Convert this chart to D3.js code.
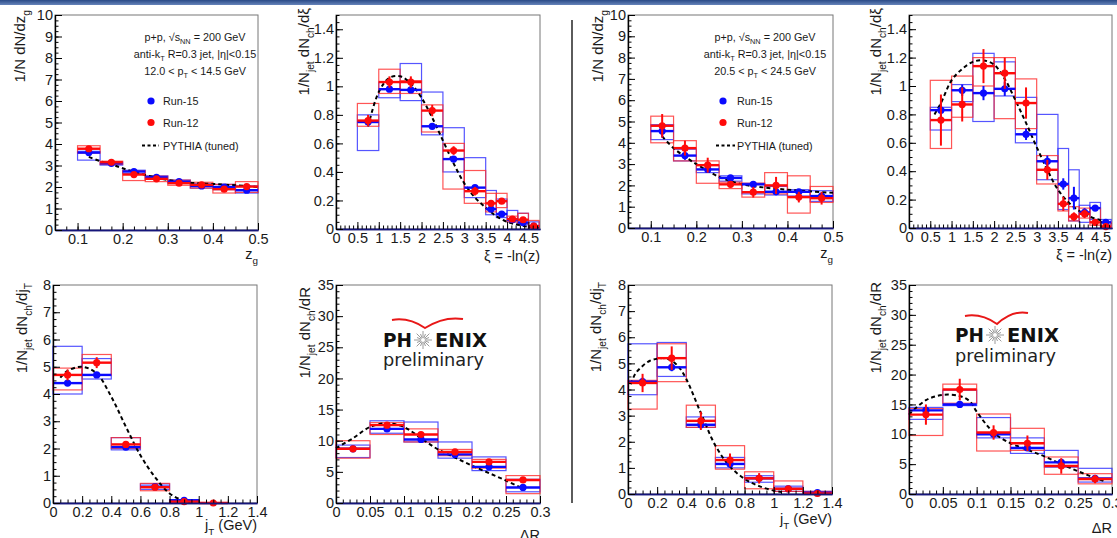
<!DOCTYPE html>
<html><head><meta charset="utf-8">
<script src="https://cdn.jsdelivr.net/npm/d3@7"></script>
<style>body{margin:0;background:#fff;} svg{display:block;font-family:"Liberation Sans",Arial,sans-serif;}</style>
</head><body><svg id="c" width="1117" height="538"></svg>
<script>
// ---------------- bin edges & tick labels ----------------
const zgEdges = [0.1,0.15,0.2,0.25,0.3,0.35,0.4,0.45,0.5];
const xiEdges = [0.5,1,1.5,2,2.5,3,3.5,3.75,4,4.25,4.5,4.75];
const jtEdgesLo = [0,0.2,0.4,0.6,0.8,1.0,1.2];
const jtEdgesHi = [0,0.2,0.4,0.6,0.8,1.0,1.2,1.4];
const drEdges = [0,0.05,0.1,0.15,0.2,0.25,0.3];

const zgXTicks = [0.1,0.2,0.3,0.4,0.5];
const zgYTicks = [0,1,2,3,4,5,6,7,8,9,10];
const xiXTicks = [0,0.5,1,1.5,2,2.5,3,3.5,4,4.5];
const xiYTicks = [0,0.2,0.4,0.6,0.8,1,1.2,1.4];
const jtXTicks = [0,0.2,0.4,0.6,0.8,1,1.2,1.4];
const jtYTicks = [0,1,2,3,4,5,6,7,8];
const drXTicks = [0,0.05,0.1,0.15,0.2,0.25,0.3];
const drYTicks = [0,5,10,15,20,25,30,35];

// ---------------- 12.0 < pT < 14.5 GeV ----------------
const zgLoBlue      = [3.6, 3.1, 2.72, 2.45, 2.25, 2.05, 2.0, 1.85];
const zgLoBlueStat  = [0.08,0.05,0.05,0.05,0.05,0.05,0.05,0.06];
const zgLoBlueSysLo = [3.25,3.02,2.62,2.36,2.18,1.95,1.88,1.72];
const zgLoBlueSysHi = [3.66,3.16,2.78,2.52,2.32,2.15,2.12,2.05];
const zgLoRed       = [3.78,3.15,2.58,2.38,2.18,2.1,1.9,2.02];
const zgLoRedStat   = [0.1,0.08,0.08,0.07,0.06,0.07,0.07,0.08];
const zgLoRedSysLo  = [3.58,3.05,2.3,2.25,2.08,1.95,1.72,1.75];
const zgLoRedSysHi  = [3.92,3.2,2.75,2.5,2.32,2.22,2.12,2.25];
const zgLoPyX = [0.125,0.15,0.175,0.2,0.25,0.3,0.35,0.4,0.45,0.5];
const zgLoPyY = [3.4,3.2,3.05,2.87,2.56,2.33,2.2,2.14,2.08,2.0];

const xiLoBlue      = [0.75,0.98,0.975,0.72,0.49,0.29,0.14,0.105,0.065,0.045,0.02];
const xiLoBlueStat  = [0.03,0.02,0.02,0.02,0.015,0.015,0.01,0.01,0.008,0.008,0.005];
const xiLoBlueSysLo = [0.55,0.92,0.90,0.66,0.40,0.22,0.10,0.08,0.05,0.03,0.01];
const xiLoBlueSysHi = [0.80,1.03,1.16,0.96,0.71,0.50,0.27,0.21,0.13,0.11,0.05];
const xiLoRed       = [0.76,1.03,1.03,0.83,0.55,0.265,0.18,0.195,0.07,0.065,0.02];
const xiLoRedStat   = [0.04,0.04,0.04,0.04,0.03,0.03,0.02,0.015,0.01,0.01,0.008];
const xiLoRedSysLo  = [0.72,0.95,0.95,0.68,0.28,0.18,0.12,0.15,0.05,0.04,0.0];
const xiLoRedSysHi  = [0.88,1.12,1.04,0.87,0.60,0.41,0.25,0.25,0.09,0.11,0.06];
const xiLoPyX = [0.75,1.0,1.25,1.5,1.75,2.0,2.25,2.5,2.75,3.0,3.25,3.5,3.75,4.0,4.25,4.5,4.75];
const xiLoPyY = [0.72,0.96,1.06,1.07,1.02,0.92,0.78,0.62,0.46,0.32,0.22,0.15,0.09,0.05,0.03,0.015,0.01];

const jtLoBlue      = [4.4,4.7,2.05,0.6,0.1];
const jtLoBlueStat  = [0.1,0.1,0.05,0.03,0.02];
const jtLoBlueSysLo = [4.0,4.55,1.95,0.5,0.0];
const jtLoBlueSysHi = [5.75,5.3,2.4,0.7,0.12];
const jtLoRed       = [4.7,5.15,2.15,0.58,0.05,0.0];
const jtLoRedStat   = [0.2,0.2,0.08,0.04,0.02,0.01];
const jtLoRedSysLo  = [4.15,4.7,2.0,0.45,0.0,0.0];
const jtLoRedSysHi  = [4.95,5.45,2.4,0.72,0.1,0.02];
const jtLoPyX = [0.05,0.1,0.2,0.3,0.4,0.5,0.6,0.7,0.8,0.9,0.95];
const jtLoPyY = [4.6,4.85,5.0,4.75,3.9,2.8,1.75,0.95,0.35,0.08,0.03];

const drLoBlue      = [8.7,11.9,10.2,7.8,5.8,2.5];
const drLoBlueStat  = [0.2,0.3,0.3,0.2,0.2,0.2];
const drLoBlueSysLo = [7.3,11.2,9.8,7.2,5.2,1.8];
const drLoBlueSysHi = [9.3,13.2,13.0,9.8,7.4,3.8];
const drLoRed       = [8.7,12.5,11.0,8.2,6.6,3.7];
const drLoRedStat   = [0.3,0.4,0.4,0.3,0.3,0.3];
const drLoRedSysLo  = [7.2,11.0,9.8,7.6,5.6,1.5];
const drLoRedSysHi  = [10.0,12.9,11.9,8.6,7.0,4.4];
const drLoPyX = [0.0,0.025,0.05,0.075,0.1,0.125,0.15,0.175,0.2,0.225,0.25,0.275];
const drLoPyY = [8.8,10.4,12.2,12.8,12.2,10.4,8.6,7.3,6.0,4.8,3.6,2.3];

// ---------------- 20.5 < pT < 24.5 GeV ----------------
const zgHiBlue      = [4.55,3.4,2.75,2.35,2.05,1.7,1.7,1.5];
const zgHiBlueStat  = [0.3,0.2,0.15,0.1,0.1,0.1,0.1,0.12];
const zgHiBlueSysLo = [4.15,3.15,2.6,2.2,1.6,1.55,1.5,1.25];
const zgHiBlueSysHi = [4.85,3.7,2.95,2.45,2.1,1.95,1.8,1.75];
const zgHiRed       = [4.8,3.75,2.95,2.05,1.68,2.0,1.45,1.4];
const zgHiRedStat   = [0.55,0.35,0.35,0.15,0.25,0.4,0.25,0.3];
const zgHiRedSysLo  = [4.0,3.15,2.1,1.85,1.45,1.6,0.7,1.2];
const zgHiRedSysHi  = [5.25,4.1,3.15,2.15,2.1,2.6,2.45,1.95];
const zgHiPyX = [0.125,0.15,0.175,0.2,0.25,0.3,0.35,0.4,0.45,0.5];
const zgHiPyY = [4.3,3.75,3.35,3.0,2.4,2.05,1.9,1.8,1.72,1.65];

const xiHiBlue      = [0.83,0.97,0.95,0.98,0.66,0.47,0.31,0.21,0.11,0.14,0.04];
const xiHiBlueStat  = [0.05,0.04,0.05,0.05,0.04,0.04,0.04,0.08,0.03,0.02,0.02];
const xiHiBlueSysLo = [0.69,0.89,0.75,0.93,0.6,0.34,0.13,0.05,0.04,0.06,0.0];
const xiHiBlueSysHi = [0.85,1.01,1.23,1.17,0.92,0.8,0.56,0.41,0.16,0.18,0.06];
const xiHiRed       = [0.76,0.87,1.14,1.09,0.88,0.41,0.17,0.08,0.1,0.04,0.01];
const xiHiRedStat   = [0.18,0.12,0.12,0.11,0.11,0.07,0.05,0.03,0.03,0.02,0.01];
const xiHiRedSysLo  = [0.56,0.78,1.0,0.77,0.7,0.31,0.12,0.05,0.07,0.02,0.0];
const xiHiRedSysHi  = [1.04,1.07,1.2,1.2,1.05,0.51,0.3,0.15,0.14,0.14,0.04];
const xiHiPyX = [0.6,0.75,1.0,1.25,1.5,1.75,2.0,2.25,2.5,2.75,3.0,3.25,3.5,3.75,4.0,4.25,4.5,4.75];
const xiHiPyY = [0.8,0.88,1.04,1.12,1.17,1.18,1.15,1.05,0.9,0.74,0.57,0.41,0.27,0.18,0.12,0.08,0.055,0.03];

const jtHiBlue      = [4.3,4.85,2.65,1.15,0.6,0.2,0.05];
const jtHiBlueStat  = [0.15,0.15,0.1,0.08,0.05,0.03,0.02];
const jtHiBlueSysLo = [3.8,4.5,2.55,1.0,0.45,0.1,0.0];
const jtHiBlueSysHi = [5.75,5.8,2.95,1.4,0.7,0.3,0.1];
const jtHiRed       = [4.25,5.2,2.8,1.3,0.6,0.2,0.02];
const jtHiRedStat   = [0.35,0.45,0.35,0.25,0.2,0.1,0.03];
const jtHiRedSysLo  = [3.25,4.3,2.55,0.95,0.2,0.1,0.0];
const jtHiRedSysHi  = [4.35,5.75,3.4,1.85,0.85,0.5,0.1];
const jtHiPyX = [0.02,0.05,0.1,0.15,0.2,0.25,0.3,0.35,0.4,0.5,0.6,0.7,0.8,0.9,1.0,1.05];
const jtHiPyY = [4.2,4.6,4.9,5.1,5.18,5.2,5.1,4.85,4.4,3.1,1.85,1.05,0.58,0.3,0.13,0.08];

const drHiBlue      = [14.0,15.0,10.0,7.7,5.3,2.6];
const drHiBlueStat  = [0.6,0.6,0.5,0.4,0.4,0.3];
const drHiBlueSysLo = [12.5,14.8,9.4,6.8,4.5,2.0];
const drHiBlueSysHi = [14.5,17.4,12.8,9.4,7.3,4.3];
const drHiRed       = [13.3,17.5,10.3,8.5,4.7,2.5];
const drHiRedStat   = [1.7,1.8,1.2,1.3,1.3,0.7];
const drHiRedSysLo  = [9.8,15.2,7.2,7.3,3.3,1.7];
const drHiRedSysHi  = [14.3,18.4,13.4,11.0,6.2,3.4];
const drHiPyX = [0.0,0.025,0.05,0.075,0.09,0.1,0.125,0.15,0.175,0.2,0.225,0.25,0.275,0.29];
const drHiPyY = [13.3,15.7,16.6,16.4,15.5,13.8,10.3,8.5,7.4,6.3,5.0,3.8,2.7,2.1];

// ---------------- drawing ----------------
const svg = d3.select('#c');
const FONT = '"Liberation Sans",Arial,sans-serif';
const BLUE = '#0a0aff', RED = '#ff0a0a';

// header band
const grad = svg.append('defs').append('linearGradient').attr('id','hb').attr('x1',0).attr('y1',0).attr('x2',0).attr('y2',1);
grad.append('stop').attr('offset','0%').attr('stop-color','#2a4a86');
grad.append('stop').attr('offset','100%').attr('stop-color','#6684bb');
svg.append('rect').attr('x',0).attr('y',0).attr('width',1117).attr('height',5).attr('fill','url(#hb)');

// divider
svg.append('line').attr('x1',572).attr('x2',572).attr('y1',20).attr('y2',503).attr('stroke','#333').attr('stroke-width',1.6);

function rich(textSel, parts, size){
  let off = 0;
  parts.forEach(([t, sub]) => {
    const target = sub ? size*0.32 : 0;
    textSel.append('tspan').attr('dy', target - off).attr('font-size', sub ? size*0.68 : size).text(t);
    off = target;
  });
}

function minorVals(dom, step){
  const n = Math.round((dom[1]-dom[0])/step);
  return d3.range(n+1).map(i => dom[0] + i*step).filter(v => v <= dom[1] + 1e-9);
}

function drawPanel(p){
  const g = svg.append('g');
  const x = d3.scaleLinear().domain(p.xDom).range([p.L, p.R]);
  const y = d3.scaleLinear().domain(p.yDom).range([p.B, p.T]);

  g.append('rect').attr('x',p.L).attr('y',p.T).attr('width',p.R-p.L).attr('height',p.B-p.T)
    .attr('fill','none').attr('stroke','#777').attr('stroke-width',1);

  const series = [
    {v:p.blue, s:p.blueStat, lo:p.blueSysLo, hi:p.blueSysHi, c:BLUE, bc:'#2b2bff'},
    {v:p.red,  s:p.redStat,  lo:p.redSysLo,  hi:p.redSysHi,  c:RED,  bc:'#ff2b2b'}
  ];
  // systematic boxes
  series.forEach(S => {
    g.selectAll(null).data(S.v).enter().append('rect')
      .attr('x',(d,i)=>x(p.edges[i])).attr('width',(d,i)=>x(p.edges[i+1])-x(p.edges[i]))
      .attr('y',(d,i)=>y(S.hi[i])).attr('height',(d,i)=>Math.max(0.5,y(S.lo[i])-y(S.hi[i])))
      .attr('fill','none').attr('stroke',S.bc).attr('stroke-opacity',0.8).attr('stroke-width',1.2);
  });
  // PYTHIA
  const pts = p.pyX.map((v,i)=>[v,p.pyY[i]]);
  g.append('path').datum(pts)
    .attr('d', d3.line().x(d=>x(d[0])).y(d=>y(d[1])).curve(d3.curveCatmullRom))
    .attr('fill','none').attr('stroke','#000').attr('stroke-width',2).attr('stroke-dasharray','4,3');
  // data
  series.forEach(S => {
    const c = (i)=> x((p.edges[i]+p.edges[i+1])/2);
    g.selectAll(null).data(S.v).enter().append('line')
      .attr('x1',(d,i)=>x(p.edges[i])).attr('x2',(d,i)=>x(p.edges[i+1]))
      .attr('y1',d=>y(d)).attr('y2',d=>y(d)).attr('stroke',S.c).attr('stroke-width',2.4);
    g.selectAll(null).data(S.v).enter().append('line')
      .attr('x1',(d,i)=>c(i)).attr('x2',(d,i)=>c(i))
      .attr('y1',(d,i)=>y(Math.max(0,d-S.s[i]))).attr('y2',(d,i)=>y(d+S.s[i]))
      .attr('stroke',S.c).attr('stroke-width',2);
    g.selectAll(null).data(S.v).enter().append('circle')
      .attr('cx',(d,i)=>c(i)).attr('cy',d=>y(d)).attr('r',3.6).attr('fill',S.c);
  });

  // axes
  const xg = g.append('g').attr('transform',`translate(0,${p.B})`);
  xg.call(d3.axisBottom(x).tickValues(minorVals(p.xDom,p.xMinor)).tickSizeInner(-3.5).tickSizeOuter(0).tickFormat(''));
  xg.append('g').call(d3.axisBottom(x).tickValues(p.xTicks).tickSizeInner(-7).tickSizeOuter(0).tickPadding(4).tickFormat(d=>String(d)));
  xg.selectAll('.domain').attr('stroke','#15157a').attr('stroke-width',1.6);
  xg.selectAll('text').attr('font-size',14.5).attr('fill','#1a1a1a').attr('font-family',FONT);

  const yg = g.append('g').attr('transform',`translate(${p.L},0)`);
  yg.call(d3.axisLeft(y).tickValues(minorVals(p.yDom,p.yMinor)).tickSizeInner(-3.5).tickSizeOuter(0).tickFormat(''));
  yg.append('g').call(d3.axisLeft(y).tickValues(p.yTicks).tickSizeInner(-7).tickSizeOuter(0).tickPadding(2).tickFormat(d=>String(d)));
  yg.selectAll('.domain').attr('stroke','#000').attr('stroke-width',1.2);
  yg.selectAll('text').attr('font-size',14.5).attr('fill','#1a1a1a').attr('font-family',FONT);

  // axis titles
  const yt = svg.append('text').attr('text-anchor','end').attr('font-family',FONT).attr('fill','#1a1a1a')
    .attr('transform',`translate(${p.ytX},${p.ytY}) rotate(-90)`);
  rich(yt, p.yTitle, 15);
  const xt = svg.append('text').attr('text-anchor','end').attr('font-family',FONT).attr('fill','#1a1a1a')
    .attr('x',p.R).attr('y',p.xtY);
  rich(xt, p.xTitle, 14.5);
}

const zgTitleY = [['1/N dN/dz',0],['g',1]];
const xiTitleY = [['1/N',0],['jet',1],[' dN',0],['ch',1],['/dξ',0]];
const jtTitleY = [['1/N',0],['jet',1],[' dN',0],['ch',1],['/dj',0],['T',1]];
const drTitleY = [['1/N',0],['jet',1],[' dN',0],['ch',1],['/dR',0]];

// left group (12.0 < pT < 14.5)
drawPanel({L:55,R:258,T:15,B:230,xDom:[0.05,0.5],yDom:[0,10],xTicks:zgXTicks,yTicks:zgYTicks,xMinor:0.025,yMinor:0.25,
  edges:zgEdges,blue:zgLoBlue,blueStat:zgLoBlueStat,blueSysLo:zgLoBlueSysLo,blueSysHi:zgLoBlueSysHi,
  red:zgLoRed,redStat:zgLoRedStat,redSysLo:zgLoRedSysLo,redSysHi:zgLoRedSysHi,pyX:zgLoPyX,pyY:zgLoPyY,
  yTitle:zgTitleY,ytX:25,ytY:10,xTitle:[['z',0],['g',1]],xtY:259});
drawPanel({L:336,R:540,T:15,B:229,xDom:[0,4.77],yDom:[0,1.5],xTicks:xiXTicks,yTicks:xiYTicks,xMinor:0.1,yMinor:0.05,
  edges:xiEdges,blue:xiLoBlue,blueStat:xiLoBlueStat,blueSysLo:xiLoBlueSysLo,blueSysHi:xiLoBlueSysHi,
  red:xiLoRed,redStat:xiLoRedStat,redSysLo:xiLoRedSysLo,redSysHi:xiLoRedSysHi,pyX:xiLoPyX,pyY:xiLoPyY,
  yTitle:xiTitleY,ytX:309,ytY:8,xTitle:[['ξ = -ln(z)',0]],xtY:261});
drawPanel({L:53,R:257,T:285,B:503,xDom:[0,1.4],yDom:[0,8],xTicks:jtXTicks,yTicks:jtYTicks,xMinor:0.05,yMinor:0.25,
  edges:jtEdgesLo,blue:jtLoBlue,blueStat:jtLoBlueStat,blueSysLo:jtLoBlueSysLo,blueSysHi:jtLoBlueSysHi,
  red:jtLoRed,redStat:jtLoRedStat,redSysLo:jtLoRedSysLo,redSysHi:jtLoRedSysHi,pyX:jtLoPyX,pyY:jtLoPyY,
  yTitle:jtTitleY,ytX:27,ytY:283,xTitle:[['j',0],['T',1],[' (GeV)',0]],xtY:530});
drawPanel({L:336,R:540,T:285,B:503,xDom:[0,0.3],yDom:[0,35],xTicks:drXTicks,yTicks:drYTicks,xMinor:0.01,yMinor:1,
  edges:drEdges,blue:drLoBlue,blueStat:drLoBlueStat,blueSysLo:drLoBlueSysLo,blueSysHi:drLoBlueSysHi,
  red:drLoRed,redStat:drLoRedStat,redSysLo:drLoRedSysLo,redSysHi:drLoRedSysHi,pyX:drLoPyX,pyY:drLoPyY,
  yTitle:drTitleY,ytX:310,ytY:287,xTitle:[['ΔR',0]],xtY:540});

// right group (20.5 < pT < 24.5)
drawPanel({L:628,R:833,T:15,B:228,xDom:[0.05,0.5],yDom:[0,10],xTicks:zgXTicks,yTicks:zgYTicks,xMinor:0.025,yMinor:0.25,
  edges:zgEdges,blue:zgHiBlue,blueStat:zgHiBlueStat,blueSysLo:zgHiBlueSysLo,blueSysHi:zgHiBlueSysHi,
  red:zgHiRed,redStat:zgHiRedStat,redSysLo:zgHiRedSysLo,redSysHi:zgHiRedSysHi,pyX:zgHiPyX,pyY:zgHiPyY,
  yTitle:zgTitleY,ytX:603,ytY:10,xTitle:[['z',0],['g',1]],xtY:258});
drawPanel({L:909,R:1112,T:15,B:228,xDom:[0,4.77],yDom:[0,1.5],xTicks:xiXTicks,yTicks:xiYTicks,xMinor:0.1,yMinor:0.05,
  edges:xiEdges,blue:xiHiBlue,blueStat:xiHiBlueStat,blueSysLo:xiHiBlueSysLo,blueSysHi:xiHiBlueSysHi,
  red:xiHiRed,redStat:xiHiRedStat,redSysLo:xiHiRedSysLo,redSysHi:xiHiRedSysHi,pyX:xiHiPyX,pyY:xiHiPyY,
  yTitle:xiTitleY,ytX:881,ytY:8,xTitle:[['ξ = -ln(z)',0]],xtY:260});
drawPanel({L:628,R:832,T:285,B:494,xDom:[0,1.4],yDom:[0,8],xTicks:jtXTicks,yTicks:jtYTicks,xMinor:0.05,yMinor:0.25,
  edges:jtEdgesHi,blue:jtHiBlue,blueStat:jtHiBlueStat,blueSysLo:jtHiBlueSysLo,blueSysHi:jtHiBlueSysHi,
  red:jtHiRed,redStat:jtHiRedStat,redSysLo:jtHiRedSysLo,redSysHi:jtHiRedSysHi,pyX:jtHiPyX,pyY:jtHiPyY,
  yTitle:jtTitleY,ytX:601,ytY:282,xTitle:[['j',0],['T',1],[' (GeV)',0]],xtY:524});
drawPanel({L:909,R:1112,T:285,B:494,xDom:[0,0.3],yDom:[0,35],xTicks:drXTicks,yTicks:drYTicks,xMinor:0.01,yMinor:1,
  edges:drEdges,blue:drHiBlue,blueStat:drHiBlueStat,blueSysLo:drHiBlueSysLo,blueSysHi:drHiBlueSysHi,
  red:drHiRed,redStat:drHiRedStat,redSysLo:drHiRedSysLo,redSysHi:drHiRedSysHi,pyX:drHiPyX,pyY:drHiPyY,
  yTitle:drTitleY,ytX:881,ytY:282,xTitle:[['ΔR',0]],xtY:533});

// legends
function legend(cx, dotX, textX, dashX1, dashX2, ptParts){
  const L = svg.append('g').attr('font-family',FONT).attr('fill','#1a1a1a');
  const l1 = L.append('text').attr('x',cx).attr('y',41).attr('text-anchor','middle');
  rich(l1, [['p+p, √s',0],['NN',1],[' = 200 GeV',0]], 10.8);
  const l2 = L.append('text').attr('x',cx).attr('y',58).attr('text-anchor','middle');
  rich(l2, [['anti-k',0],['T',1],[' R=0.3 jet, |η|<0.15',0]], 10.8);
  const l3 = L.append('text').attr('x',cx).attr('y',75).attr('text-anchor','middle');
  rich(l3, ptParts, 10.8);
  L.append('circle').attr('cx',dotX).attr('cy',101).attr('r',3.6).attr('fill',BLUE);
  L.append('text').attr('x',textX).attr('y',105).attr('font-size',10.8).text('Run-15');
  L.append('circle').attr('cx',dotX).attr('cy',122.5).attr('r',3.6).attr('fill',RED);
  L.append('text').attr('x',textX).attr('y',126.5).attr('font-size',10.8).text('Run-12');
  L.append('line').attr('x1',dashX1).attr('x2',dashX2).attr('y1',145.5).attr('y2',145.5)
    .attr('stroke','#000').attr('stroke-width',2).attr('stroke-dasharray','3,2.5');
  L.append('text').attr('x',textX).attr('y',149.5).attr('font-size',10.8).text('PYTHIA (tuned)');
}
legend(195,151,163,142,159,[['12.0 < p',0],['T',1],[' < 14.5 GeV',0]]);
legend(765,723,737,716,735,[['20.5 < p',0],['T',1],[' < 24.5 GeV',0]]);

// PHENIX preliminary logos
function logo(px, capBase, prelimBase, arc){
  const L = svg.append('g');
  L.append('path').attr('d',`M${arc[0]},${arc[1]} Q${(arc[0]+arc[2])/2},${arc[1]-3} ${arc[2]},${arc[3]} Q${(arc[2]+arc[4])/2},${arc[5]-3} ${arc[4]},${arc[5]}`)
    .attr('fill','none').attr('stroke','#e81818').attr('stroke-width',2);
  L.append('text').attr('x',px).attr('y',capBase).attr('font-family','DejaVu Sans').attr('font-weight','bold')
    .attr('font-size',19.5).attr('textLength',29).attr('lengthAdjust','spacingAndGlyphs').attr('fill','#111').text('PH');
  const sx = px+40, sy = capBase-7;
  d3.range(16).forEach(k => {
    const a = k*Math.PI/8, r = (k%2 ? 6.5 : 9);
    L.append('line').attr('x1',sx+2*Math.cos(a)).attr('y1',sy+2*Math.sin(a))
      .attr('x2',sx+r*Math.cos(a)).attr('y2',sy+r*Math.sin(a)).attr('stroke','#9a9a9a').attr('stroke-width',1);
  });
  L.append('text').attr('x',px+52).attr('y',capBase).attr('font-family','DejaVu Sans').attr('font-weight','bold')
    .attr('font-size',19.5).attr('textLength',52).attr('lengthAdjust','spacingAndGlyphs').attr('fill','#111').text('ENIX');
  L.append('text').attr('x',px).attr('y',prelimBase).attr('font-family','DejaVu Sans')
    .attr('font-size',18).attr('textLength',101).attr('lengthAdjust','spacingAndGlyphs').attr('fill','#222').text('preliminary');
}
logo(383, 347, 366, [392,320,425,328,463,319]);
logo(955, 342, 362, [965,316,997,324,1028,313]);
</script></body></html>
